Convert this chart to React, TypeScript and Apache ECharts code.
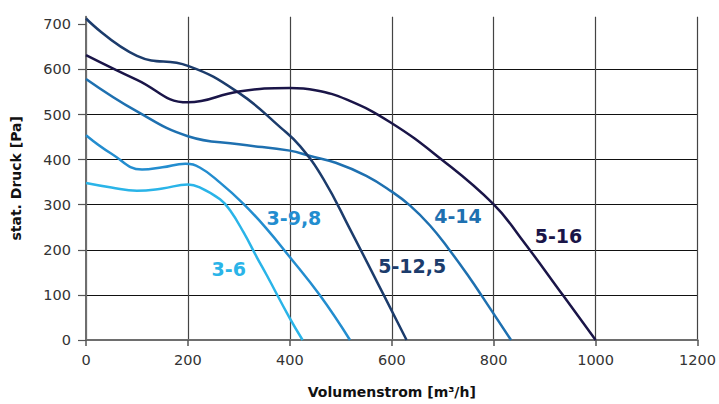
import React, { useEffect, useRef } from "react";
import * as echarts from "echarts";

const seriesNames = ["3-6", "3-9,8", "4-14", "5-12,5", "5-16"];
const seriesColors = ["#2ab4e8", "#238dcf", "#1e70b0", "#1c3c6c", "#1a1548"];

const curve36 = [
  [0, 348], [50, 338], [100, 331], [150, 336], [200, 345], [224, 338],
  [263, 312], [283, 287], [309, 239], [335, 184], [355, 143], [400, 48], [425, 0],
];
const curve398 = [
  [0, 454], [50, 413], [110, 378], [150, 383], [195, 391], [224, 382],
  [263, 349], [309, 302], [355, 246], [397, 188], [459, 99], [518, 0],
];
const curve414 = [
  [0, 579], [100, 507], [200, 452], [300, 434], [400, 420], [440, 408],
  [490, 393], [550, 364], [600, 329], [636, 298], [675, 254], [711, 203],
  [754, 136], [776, 99], [834, 0],
];
const curve5125 = [
  [0, 713], [100, 630], [200, 608], [300, 548], [382, 471], [420, 430],
  [466, 357], [518, 246], [571, 129], [629, 0],
];
const curve516 = [
  [0, 632], [100, 577], [200, 527], [300, 551], [400, 559], [450, 554],
  [512, 533], [597, 483], [697, 401], [799, 302], [852, 228], [936, 99], [1000, 0],
];
const curves = [curve36, curve398, curve414, curve5125, curve516];

const labelX = [280, 408, 730, 640, 927];
const labelY = [157, 271, 275, 164, 231];

const xTicks = [0, 200, 400, 600, 800, 1000, 1200];
const yTicks = [0, 100, 200, 300, 400, 500, 600, 700];

export default function App() {
  const ref = useRef<HTMLDivElement>(null);
  useEffect(() => {
    if (!ref.current) return;
    const chart = echarts.init(ref.current, null, { renderer: "svg" });
    const font = "DejaVu Sans";
    const lineSeries = curves.map((c, i) => ({
      type: "line",
      name: seriesNames[i],
      data: c,
      smooth: 0.45,
      showSymbol: false,
      symbol: "none",
      lineStyle: { color: seriesColors[i], width: 2.5 },
      z: 3,
    }));
    const labelSeries = {
      type: "scatter",
      symbolSize: 0,
      itemStyle: { opacity: 0 },
      data: seriesNames.map((n, i) => ({
        name: n,
        value: [labelX[i], labelY[i]],
        label: { color: seriesColors[i] },
      })),
      label: {
        show: true,
        position: "inside",
        formatter: (p: any) => p.name,
        fontFamily: font,
        fontWeight: "bold",
        fontSize: 19,
        textBorderWidth: 0,
        opacity: 1,
      },
      z: 4,
    };
    chart.setOption({
      animation: false,
      grid: { left: 86, right: 21, top: 16.7, bottom: 62.3, containLabel: false },
      xAxis: {
        type: "value",
        min: 0,
        max: 1200,
        interval: 200,
        name: "Volumenstrom [m³/h]",
        nameLocation: "middle",
        nameGap: 45,
        nameTextStyle: { fontFamily: font, fontWeight: "bold", fontSize: 14, color: "#111" },
        axisLine: { show: true, lineStyle: { color: "#6e6e6e", width: 2 } },
        axisTick: { show: true, length: 6, customValues: xTicks, lineStyle: { color: "#555", width: 1.5 } },
        axisLabel: {
          fontFamily: font,
          fontSize: 14.5,
          color: "#333",
          margin: 12,
          customValues: xTicks,
          formatter: (v: number) => String(v),
        },
        splitLine: { show: true, lineStyle: { color: "#444", width: 1.2 } },
      },
      yAxis: {
        type: "value",
        min: 0,
        max: 717,
        interval: 100,
        name: "stat. Druck [Pa]",
        nameLocation: "middle",
        nameGap: 63,
        nameTextStyle: { fontFamily: font, fontWeight: "bold", fontSize: 14, color: "#111" },
        axisLine: { show: true, lineStyle: { color: "#6e6e6e", width: 2 } },
        axisTick: { show: true, length: 8, customValues: yTicks, lineStyle: { color: "#555", width: 1.2 } },
        axisLabel: {
          fontFamily: font,
          fontSize: 14.5,
          color: "#333",
          margin: 15,
          customValues: yTicks,
          formatter: (v: number) => (yTicks.indexOf(v) >= 0 ? String(v) : ""),
        },
        splitLine: { show: true, showMaxLine: false, lineStyle: { color: "#111", width: 1 } },
      },
      series: [...lineSeries, labelSeries],
    });
    return () => chart.dispose();
  }, []);
  return (
    <div
      ref={ref}
      style={{ position: "fixed", left: 0, top: 0, width: 719, height: 404, background: "#fff" }}
    />
  );
}
